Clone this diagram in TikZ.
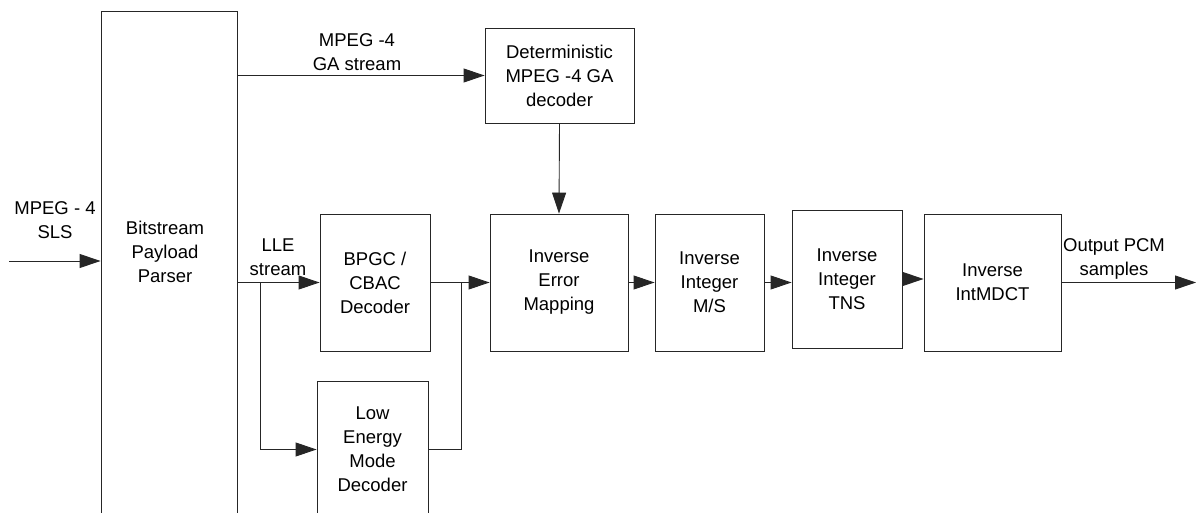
\documentclass[tikz,border=0pt]{standalone}
\usepackage{fontspec}
\setmainfont{Liberation Sans}
\usetikzlibrary{arrows.meta}
\begin{document}
\begin{tikzpicture}[x=1pt,y=-1pt,
  blk/.style={draw=black!85,line width=0.9pt,inner sep=0pt},
  txt/.style={align=center,font=\fontsize{18.5}{24}\selectfont,inner sep=0pt},
  conn/.style={draw=black!85,line width=0.9pt},
  arr/.style={conn,-{Triangle[length=21pt,width=14pt]}}]
\useasboundingbox (0,0) rectangle (1196,513);
\clip (0,0) rectangle (1196,513);
% boxes
\node[blk,minimum width=136pt,minimum height=519pt] (parser) at (169,270.5) {};
\node[txt] (parsertext) at (165,252) {Bitstream\\Payload\\Parser};
\node[blk,txt,minimum width=149pt,minimum height=95pt] (det) at (559.5,75.5) {Deterministic\\MPEG -4 GA\\decoder};
\node[blk,txt,minimum width=110pt,minimum height=137pt] (bpgc) at (375,282.5) {BPGC /\\CBAC\\Decoder};
\node[blk,txt,minimum width=111pt,minimum height=137pt] (low) at (372.5,449.5) {Low\\Energy\\Mode\\Decoder};
\node[blk,txt,minimum width=138pt,minimum height=137pt] (err) at (559,282.5) {Inverse\\Error\\Mapping};
\node[blk,txt,minimum width=109pt,minimum height=137pt] (ms) at (709.5,282.5) {Inverse\\Integer\\M/S};
\node[blk,txt,minimum width=110pt,minimum height=138pt] (tns) at (847,279) {Inverse\\Integer\\TNS};
\node[blk,txt,minimum width=137pt,minimum height=137pt] (mdct) at (992.5,282.5) {Inverse\\IntMDCT};
% labels
\node[txt] (lsls) at (55,220) {MPEG - 4\\SLS};
\node[txt] (lga) at (357,52) {MPEG -4\\GA stream};
\node[txt] (llle) at (278,257) {LLE\\stream};
\node[txt] (lout) at (1114,259) {Output PCM\\samples};
% coordinates
\coordinate (in) at (9,261);
\coordinate (br) at (260,282.5);
\coordinate (mg) at (461,282.5);
\coordinate (out) at (1196,282.5);
% connectors
\draw[arr] (in) -- (in -| parser.west);
\draw[arr] (det.west -| parser.east) -- (det.west);
\draw[arr] (det.south) -- (err.north);
\draw[arr] (bpgc.west -| parser.east) -- (bpgc.west);
\draw[arr] (br) |- (low.west);
\draw[conn] (bpgc.east) -- (mg);
\draw[conn] (low.east) -| (mg);
\draw[arr] (mg) -- (err.west);
\draw[arr] (err.east) -- (ms.west);
\draw[arr] (ms.east) -- (ms.east -| tns.west);
\draw[arr] (tns.east) -- (tns.east -| mdct.west);
\draw[arr] (mdct.east) -- (out);
\end{tikzpicture}
\end{document}
